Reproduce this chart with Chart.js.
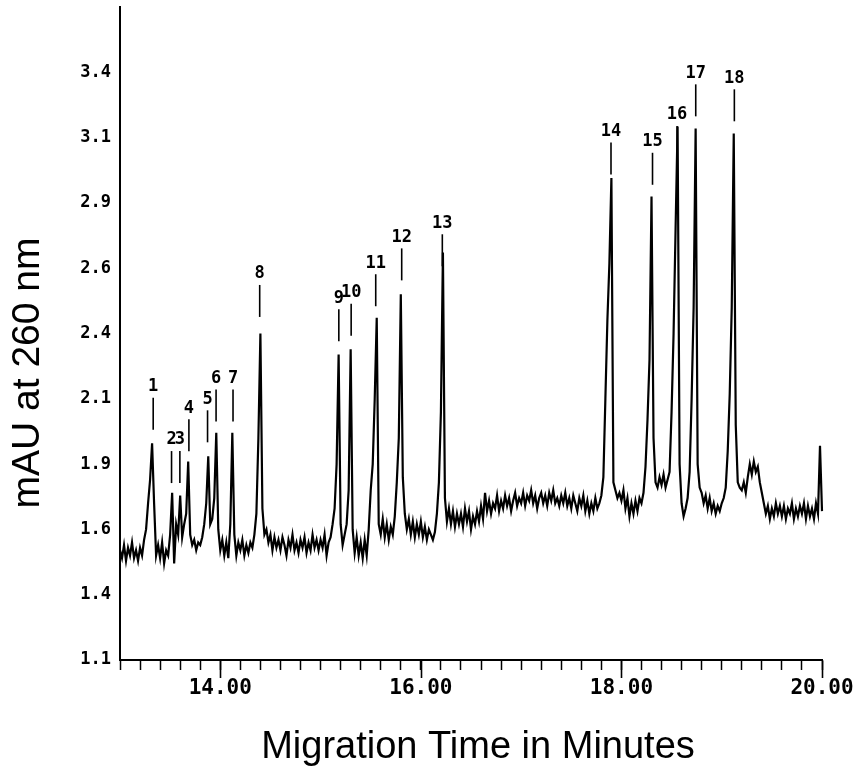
<!DOCTYPE html>
<html>
<head>
<meta charset="utf-8">
<script src="https://cdn.jsdelivr.net/npm/chart.js@4.4.1/dist/chart.umd.min.js"></script>
<style>
html,body{margin:0;padding:0;background:#fff;}
#wrap{width:867px;height:773px;position:relative;}
</style>
</head>
<body>
<div id="wrap"><canvas id="c" width="867" height="773"></canvas></div>
<script>
// ---- data ----
const startTime = 13.0;      // minutes, first sample
const sampleStep = 0.02;     // minutes between samples
const absorbance = [
  1.52, 1.49, 1.54, 1.48, 1.53, 1.50, 1.55, 1.49, 1.52, 1.48,
  1.53, 1.50, 1.56, 1.60, 1.70, 1.79, 1.93, 1.70, 1.50, 1.54,
  1.49, 1.55, 1.47, 1.52, 1.50, 1.58, 1.74, 1.47, 1.62, 1.58,
  1.73, 1.57, 1.62, 1.66, 1.86, 1.58, 1.54, 1.56, 1.52, 1.55,
  1.54, 1.57, 1.62, 1.70, 1.88, 1.62, 1.64, 1.72, 1.97, 1.60,
  1.52, 1.56, 1.50, 1.55, 1.49, 1.62, 1.97, 1.58, 1.50, 1.55,
  1.52, 1.56, 1.50, 1.54, 1.51, 1.55, 1.53, 1.58, 1.66, 1.95,
  2.35, 1.68, 1.58, 1.60, 1.55, 1.58, 1.52, 1.57, 1.53, 1.56,
  1.52, 1.57, 1.54, 1.50, 1.56, 1.53, 1.58, 1.52, 1.55, 1.51,
  1.56, 1.53, 1.57, 1.51, 1.55, 1.52, 1.58, 1.53, 1.56, 1.52,
  1.56, 1.53, 1.58, 1.50, 1.55, 1.57, 1.62, 1.68, 1.85, 2.27,
  1.62, 1.54, 1.58, 1.62, 1.75, 2.29, 1.60, 1.51, 1.57, 1.50,
  1.55, 1.49, 1.56, 1.50, 1.60, 1.75, 1.85, 2.10, 2.41, 1.62,
  1.58, 1.64, 1.57, 1.62, 1.56, 1.61, 1.58, 1.65, 1.78, 1.95,
  2.50, 1.80, 1.66, 1.60, 1.64, 1.58, 1.63, 1.57, 1.62, 1.58,
  1.63, 1.57, 1.61, 1.56, 1.60, 1.58, 1.56, 1.59, 1.66, 1.78,
  2.05, 2.66, 1.72, 1.63, 1.68, 1.62, 1.67, 1.61, 1.66, 1.62,
  1.66, 1.61, 1.68, 1.63, 1.67, 1.60, 1.65, 1.62, 1.67, 1.63,
  1.69, 1.64, 1.74, 1.67, 1.71, 1.66, 1.70, 1.68, 1.73, 1.67,
  1.71, 1.68, 1.73, 1.69, 1.72, 1.67, 1.71, 1.74, 1.69, 1.72,
  1.70, 1.74, 1.69, 1.73, 1.71, 1.75, 1.70, 1.73, 1.68, 1.72,
  1.74, 1.70, 1.73, 1.69, 1.74, 1.71, 1.75, 1.70, 1.72, 1.69,
  1.73, 1.70, 1.74, 1.69, 1.72, 1.68, 1.73, 1.70, 1.67, 1.72,
  1.69, 1.73, 1.67, 1.71, 1.66, 1.70, 1.67, 1.72, 1.68, 1.70,
  1.73, 1.80, 2.10, 2.40, 2.62, 2.945, 1.78, 1.75, 1.72, 1.74,
  1.71, 1.75, 1.68, 1.72, 1.65, 1.70, 1.66, 1.71, 1.67, 1.72,
  1.70, 1.74, 1.84, 2.02, 2.25, 2.874, 1.95, 1.78, 1.76, 1.80,
  1.77, 1.81, 1.76, 1.79, 1.82, 2.05, 2.35, 2.75, 3.142, 1.85,
  1.70, 1.65, 1.68, 1.72, 1.82, 2.10, 2.45, 3.135, 1.85, 1.76,
  1.74, 1.70, 1.73, 1.68, 1.72, 1.67, 1.70, 1.66, 1.69, 1.67,
  1.70, 1.72, 1.76, 1.90, 2.12, 2.45, 3.116, 2.00, 1.78, 1.76,
  1.75, 1.78, 1.74, 1.80, 1.85, 1.81, 1.86, 1.82, 1.84, 1.78,
  1.74, 1.70, 1.66, 1.69, 1.64, 1.68, 1.65, 1.70, 1.66, 1.69,
  1.65, 1.69, 1.64, 1.68, 1.66, 1.70, 1.64, 1.68, 1.65, 1.69,
  1.66, 1.70, 1.64, 1.69, 1.65, 1.68, 1.64, 1.70, 1.66, 1.92,
  1.67
];

const peakNumbers = ['1','2','3','4','5','6','7','8','9','10','11','12','13','14','15','16','17','18'];
const peakTimes = [13.331, 13.514, 13.597, 13.687, 13.873, 13.958, 14.127, 14.393, 15.182,
                   15.305, 15.55, 15.809, 16.214, 17.896, 18.31, 18.555, 18.741, 19.126];
const peakLabelLevels = [2.146, 1.942, 1.942, 2.064, 2.098, 2.178, 2.178, 2.578, 2.485,
                         2.506, 2.619, 2.718, 2.772, 3.123, 3.084, 3.187, 3.346, 3.327];

const yTickLabels = ['1.1','1.4','1.6','1.9','2.1','2.4','2.6','2.9','3.1','3.4'];
const xMajorTicks = [14, 16, 18, 20];
const xTickLabels = ['14.00','16.00','18.00','20.00'];
const xTitle = 'Migration Time in Minutes';
const yTitle = 'mAU at 260 nm';

// ---- build the point table ----
const points = absorbance.map((v, i) => ({ x: Math.round((startTime + i * sampleStep) * 100) / 100, y: v }));

const overlay = {
  id: 'overlay',
  afterDraw(chart) {
    const { ctx, scales: { x, y }, chartArea } = chart;
    ctx.save();
    ctx.strokeStyle = '#000';
    ctx.fillStyle = '#000';
    // longer major tick marks
    ctx.lineWidth = 1.6;
    const yb = chartArea.bottom;
    xMajorTicks.forEach(v => {
      const px = Math.round(x.getPixelForValue(v)) + 0.5;
      ctx.beginPath(); ctx.moveTo(px, yb); ctx.lineTo(px, yb + 18); ctx.stroke();
    });
    // peak number labels with their marker lines
    ctx.font = 'bold 17px "DejaVu Sans Mono"';
    ctx.textAlign = 'center';
    ctx.textBaseline = 'middle';
    ctx.lineWidth = 1.6;
    peakNumbers.forEach((n, i) => {
      const px = x.getPixelForValue(peakTimes[i]);
      const py = y.getPixelForValue(peakLabelLevels[i]);
      ctx.fillText(n, px, py);
      ctx.beginPath(); ctx.moveTo(px, py + 11); ctx.lineTo(px, py + 43); ctx.stroke();
    });
    // axis titles
    ctx.font = '38px "Liberation Sans"';
    ctx.textBaseline = 'alphabetic';
    ctx.textAlign = 'center';
    ctx.fillText(xTitle, 478, 758);
    ctx.translate(39, 373);
    ctx.rotate(-Math.PI / 2);
    ctx.font = '39px "Liberation Sans"';
    ctx.fillText(yTitle, 0, 0);
    ctx.restore();
  }
};

new Chart(document.getElementById('c'), {
  type: 'line',
  data: {
    datasets: [{
      data: points,
      borderColor: '#000',
      borderWidth: 2.2,
      pointRadius: 0,
      tension: 0,
      fill: false,
      clip: false
    }]
  },
  options: {
    responsive: false,
    animation: false,
    events: [],
    layout: { padding: { top: 7, right: 45, left: 0, bottom: 0 } },
    plugins: { legend: { display: false }, tooltip: { enabled: false } },
    scales: {
      x: {
        type: 'linear',
        min: 13, max: 20,
        afterFit: s => { s.height = 113; s.paddingLeft = 0; s.paddingRight = 0; },
        border: { display: true, color: '#000', width: 2 },
        grid: { drawOnChartArea: false, drawTicks: true, tickLength: 10, tickWidth: 1.5, tickColor: '#000' },
        ticks: {
          stepSize: 0.2,
          autoSkip: false,
          maxRotation: 0, minRotation: 0,
          padding: 6,
          color: '#000',
          font: { family: 'DejaVu Sans Mono', weight: 'bold', size: 21 },
          callback: (v) => {
            const k = xMajorTicks.findIndex(m => Math.abs(m - v) < 1e-6);
            return k >= 0 ? xTickLabels[k] : '';
          }
        }
      },
      y: {
        type: 'linear',
        min: 1.1, max: 3.6,
        afterFit: s => { s.width = 120; s.paddingTop = 0; s.paddingBottom = 0; },
        border: { display: true, color: '#000', width: 2 },
        grid: { drawOnChartArea: false, drawTicks: false },
        ticks: {
          stepSize: 0.25,
          padding: 9,
          color: '#000',
          font: { family: 'DejaVu Sans Mono', weight: 'bold', size: 17 },
          callback: (v, i) => (i < yTickLabels.length ? yTickLabels[i] : null)
        }
      }
    }
  },
  plugins: [overlay]
});
</script>
</body>
</html>
